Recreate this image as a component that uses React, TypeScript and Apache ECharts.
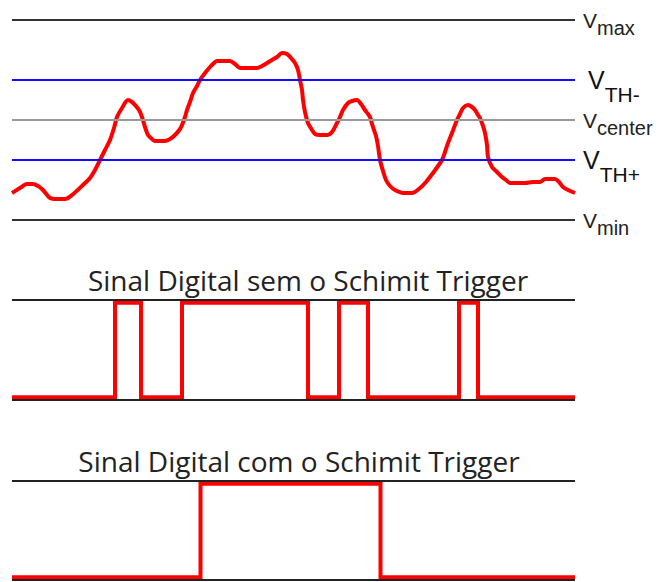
import React, { useEffect, useRef } from "react";
import * as echarts from "echarts";

// time axis (arbitrary units, left edge = 0)
const timeEnd = 563;

// analog input signal (time, volts on a 0..10 scale)
const analogT = [
  0, 8, 15, 21, 26, 31, 38, 45, 53, 60, 71, 78, 83, 88, 93, 98, 102, 105, 110, 116,
  120, 123, 127, 130, 133, 136, 140, 143, 153, 158, 163, 168, 170, 173, 175, 178, 181, 185, 188, 193,
  198, 202, 205, 218, 223, 228, 245, 250, 255, 260, 265, 270, 275, 279, 283, 286, 288, 290, 291, 293,
  296, 300, 303, 308, 315, 320, 325, 328, 331, 336, 340, 345, 349, 353, 356, 358, 360, 362, 364, 366,
  368, 371, 374, 378, 383, 391, 400, 408, 414, 421, 426, 430, 433, 436, 440, 445, 448, 451, 456, 460,
  463, 466, 468, 471, 473, 475, 476, 480, 485, 490, 494, 498, 513, 521, 528, 533, 543, 547, 551, 556, 563,
];
const analogV = [
  1.35, 1.6, 1.8, 1.8, 1.7, 1.5, 1.1, 1.05, 1.05, 1.25, 1.75, 2.1, 2.5, 3.0, 3.5, 4.0, 4.6, 5.15, 5.6, 6.0,
  5.9, 5.75, 5.5, 5.15, 4.65, 4.25, 4.05, 3.95, 3.95, 4.05, 4.25, 4.55, 4.75, 5.15, 5.5, 5.9, 6.35, 6.7, 7.0, 7.35,
  7.65, 7.85, 7.95, 7.95, 7.8, 7.6, 7.6, 7.7, 7.85, 8.0, 8.15, 8.35, 8.3, 8.1, 7.85, 7.5, 7.0, 6.5, 6.0, 5.4,
  4.85, 4.5, 4.3, 4.25, 4.25, 4.4, 4.85, 5.15, 5.5, 5.85, 5.95, 6.0, 5.8, 5.5, 5.3, 5.15, 4.8, 4.5, 4.2, 3.7,
  3.0, 2.45, 2.0, 1.7, 1.5, 1.35, 1.35, 1.6, 1.9, 2.35, 2.7, 3.0, 3.4, 3.85, 4.35, 5.0, 5.3, 5.6, 5.75, 5.65,
  5.5, 5.25, 5.1, 4.7, 4.35, 3.75, 3.15, 2.65, 2.4, 2.15, 2.0, 1.85, 1.85, 1.9, 1.9, 2.05, 2.05, 1.9, 1.65, 1.5, 1.35,
];

// reference levels
const levelNames = ["max", "TH-", "center", "TH+", "min"];
const levelValues = [10, 7, 5, 3, 0];

// digital outputs: times where the output toggles (starting low)
const rawEdges = [103, 129, 170, 296, 327, 356, 447, 466];
const schmittEdges = [188.5, 368.5];
const digitalLow = 0;
const digitalHigh = 1;
const railLow = -0.03;
const railHigh = 1.03;

const titles = ["Sinal Digital sem o Schimit Trigger", "Sinal Digital com o Schimit Trigger"];

function stepData(edges: number[]) {
  const pts: number[][] = [[0, digitalLow]];
  let lvl = digitalLow;
  for (const e of edges) {
    pts.push([e, lvl]);
    lvl = lvl === digitalLow ? digitalHigh : digitalLow;
    pts.push([e, lvl]);
  }
  pts.push([timeEnd, lvl]);
  return pts;
}

const levelStyle: Record<string, { color: string; width: number }> = {
  max: { color: "#333", width: 2 },
  "TH-": { color: "#1010ff", width: 2 },
  center: { color: "#999", width: 2 },
  "TH+": { color: "#1010ff", width: 2 },
  min: { color: "#333", width: 2 },
};

const rich = {
  v: { fontFamily: "Liberation Sans", fontSize: 21, lineHeight: 21, padding: [0, 0, 0, 0], verticalAlign: "top", color: "#222" },
  s: { fontFamily: "Liberation Sans", fontSize: 20, lineHeight: 20, padding: [8, 0, 0, 0], verticalAlign: "top", color: "#222" },
  V: { fontFamily: "Liberation Sans", fontSize: 25, lineHeight: 25, padding: [0, 0, 0, 0], verticalAlign: "top", color: "#111" },
  S: { fontFamily: "Liberation Sans", fontSize: 21, lineHeight: 21, padding: [16, 0, 0, 0], verticalAlign: "top", color: "#111" },
};

export default function App() {
  const ref = useRef<HTMLDivElement>(null);
  useEffect(() => {
    if (!ref.current) return;
    const chart = echarts.init(ref.current, undefined, { renderer: "svg" });
    const gridLeft = 12;
    const gridRight = 83;
    const railLine = (v: number) => ({
      yAxis: v,
      lineStyle: { color: "#222", width: 2, type: "solid" },
      label: { show: false },
    });
    chart.setOption({
      animation: false,
      title: [
        {
          text: titles[0],
          left: 308,
          top: 266,
          textAlign: "center",
          padding: 0,
          textStyle: { fontFamily: "Open Sans", fontSize: 28, fontWeight: "normal", color: "#222" },
        },
        {
          text: titles[1],
          left: 299,
          top: 447,
          textAlign: "center",
          padding: 0,
          textStyle: { fontFamily: "Open Sans", fontSize: 28, fontWeight: "normal", color: "#222" },
        },
      ],
      grid: [
        { left: gridLeft, right: gridRight, top: 20, height: 200 },
        { left: gridLeft, right: gridRight, top: 300, height: 100 },
        { left: gridLeft, right: gridRight, top: 481, height: 99 },
      ],
      xAxis: [0, 1, 2].map((i) => ({ type: "value", gridIndex: i, min: 0, max: timeEnd, show: false })),
      yAxis: [
        { type: "value", gridIndex: 0, min: 0, max: 10, show: false },
        { type: "value", gridIndex: 1, min: railLow, max: railHigh, show: false },
        { type: "value", gridIndex: 2, min: railLow, max: railHigh, show: false },
      ],
      series: [
        {
          type: "line",
          xAxisIndex: 0,
          yAxisIndex: 0,
          data: [],
          silent: true,
          z: 1,
          markLine: {
            silent: true,
            symbol: ["none", "none"],
            data: levelNames.map((n, i) => {
              const big = n.startsWith("TH");
              return {
                yAxis: levelValues[i],
                lineStyle: { ...levelStyle[n], type: "solid" },
                label: {
                  show: true,
                  position: "end",
                  distance: n === "TH-" ? 13 : 8,
                  formatter: big ? `{V|V}{S|${n}}` : `{v|V}{s|${n}}`,
                  rich,
                },
              };
            }),
          },
        },
        {
          type: "line",
          xAxisIndex: 0,
          yAxisIndex: 0,
          data: analogT.map((t, i) => [t, analogV[i]]),
          showSymbol: false,
          symbol: "none",
          smooth: 0.3,
          clip: false,
          z: 3,
          lineStyle: { color: "#ff0000", width: 4, join: "round" },
        },
        {
          type: "line",
          xAxisIndex: 1,
          yAxisIndex: 1,
          data: [],
          silent: true,
          z: 1,
          markLine: { silent: true, symbol: ["none", "none"], data: [railLine(railHigh), railLine(railLow)] },
        },
        {
          type: "line",
          xAxisIndex: 1,
          yAxisIndex: 1,
          data: stepData(rawEdges),
          showSymbol: false,
          symbol: "none",
          clip: false,
          z: 3,
          lineStyle: { color: "#ff0000", width: 4, join: "miter", cap: "butt" },
        },
        {
          type: "line",
          xAxisIndex: 2,
          yAxisIndex: 2,
          data: [],
          silent: true,
          z: 1,
          markLine: { silent: true, symbol: ["none", "none"], data: [railLine(railHigh), railLine(railLow)] },
        },
        {
          type: "line",
          xAxisIndex: 2,
          yAxisIndex: 2,
          data: stepData(schmittEdges),
          showSymbol: false,
          symbol: "none",
          clip: false,
          z: 3,
          lineStyle: { color: "#ff0000", width: 4, join: "miter", cap: "butt" },
        },
      ],
    });
    return () => chart.dispose();
  }, []);
  return (
    <div
      ref={ref}
      style={{ position: "absolute", left: 0, top: 0, width: 658, height: 582, background: "#fff" }}
    />
  );
}
